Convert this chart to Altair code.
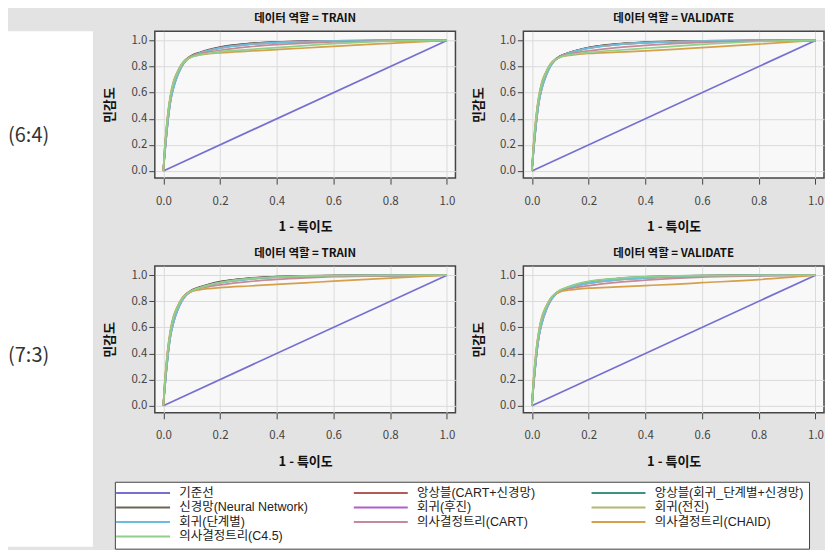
import altair as alt
import pandas as pd

FONT = "Noto Sans CJK KR"
LEGEND_FONT = "Liberation Sans, Noto Sans CJK KR"

MODELS = [
    "기준선",
    "앙상블(CART+신경망)",
    "앙상블(회귀_단계별+신경망)",
    "신경망(Neural Network)",
    "회귀(후진)",
    "회귀(전진)",
    "회귀(단계별)",
    "의사결정트리(CART)",
    "의사결정트리(CHAID)",
    "의사결정트리(C4.5)",
]
COLORS = ["#7570d0", "#b05a5a", "#3f8f84", "#6f6553", "#b15fd0",
          "#b8b56e", "#6bbde0", "#c48a9a", "#d4a04a", "#8fd08a"]

SPLITS = ["(6:4)", "(7:3)"]
ROLES = ["TRAIN", "VALIDATE"]

BASE_X = [0.0, 1.0]
BASE_Y = [0.0, 1.0]

FPR = [0, 0.005, 0.01, 0.015, 0.025, 0.035, 0.05, 0.065, 0.08, 0.1,
       0.13, 0.16, 0.2, 0.3, 0.4, 0.5, 0.6, 0.8, 1.0]

TPR_64_TRAIN = {
    "앙상블(CART+신경망)": [0, 0.16, 0.28, 0.39, 0.56, 0.66, 0.75, 0.815, 0.855, 0.885, 0.91, 0.93, 0.95, 0.976, 0.988, 0.994, 0.997, 0.999, 1.0],
    "앙상블(회귀_단계별+신경망)": [0, 0.15, 0.27, 0.38, 0.55, 0.65, 0.745, 0.81, 0.85, 0.882, 0.906, 0.926, 0.946, 0.973, 0.986, 0.993, 0.996, 0.999, 1.0],
    "신경망(Neural Network)": [0, 0.14, 0.26, 0.37, 0.54, 0.64, 0.74, 0.805, 0.848, 0.88, 0.905, 0.925, 0.947, 0.975, 0.988, 0.994, 0.997, 0.999, 1.0],
    "회귀(후진)": [0, 0.13, 0.25, 0.36, 0.53, 0.63, 0.73, 0.8, 0.845, 0.877, 0.903, 0.923, 0.942, 0.97, 0.984, 0.991, 0.995, 0.999, 1.0],
    "회귀(전진)": [0, 0.13, 0.25, 0.36, 0.53, 0.635, 0.73, 0.8, 0.846, 0.878, 0.903, 0.922, 0.941, 0.969, 0.983, 0.99, 0.995, 0.998, 1.0],
    "회귀(단계별)": [0, 0.13, 0.25, 0.36, 0.53, 0.63, 0.732, 0.802, 0.846, 0.878, 0.904, 0.923, 0.942, 0.97, 0.984, 0.991, 0.995, 0.999, 1.0],
    "의사결정트리(CART)": [0, 0.17, 0.3, 0.41, 0.57, 0.67, 0.76, 0.82, 0.855, 0.88, 0.9, 0.912, 0.925, 0.95, 0.968, 0.98, 0.988, 0.996, 1.0],
    "의사결정트리(CHAID)": [0, 0.18, 0.31, 0.42, 0.58, 0.68, 0.76, 0.82, 0.852, 0.875, 0.89, 0.898, 0.905, 0.918, 0.93, 0.942, 0.955, 0.978, 1.0],
    "의사결정트리(C4.5)": [0, 0.17, 0.3, 0.41, 0.57, 0.67, 0.755, 0.815, 0.85, 0.873, 0.892, 0.902, 0.913, 0.93, 0.945, 0.96, 0.975, 0.995, 1.0],
}

TPR_64_VALID = {
    "앙상블(CART+신경망)": [0, 0.15, 0.27, 0.38, 0.55, 0.65, 0.745, 0.81, 0.85, 0.88, 0.905, 0.925, 0.945, 0.972, 0.985, 0.992, 0.996, 0.999, 1.0],
    "앙상블(회귀_단계별+신경망)": [0, 0.15, 0.27, 0.38, 0.55, 0.65, 0.742, 0.808, 0.85, 0.88, 0.905, 0.924, 0.944, 0.971, 0.985, 0.992, 0.996, 0.999, 1.0],
    "신경망(Neural Network)": [0, 0.14, 0.26, 0.37, 0.54, 0.64, 0.738, 0.805, 0.848, 0.878, 0.904, 0.925, 0.946, 0.974, 0.987, 0.994, 0.997, 0.999, 1.0],
    "회귀(후진)": [0, 0.13, 0.25, 0.36, 0.53, 0.63, 0.73, 0.8, 0.845, 0.876, 0.902, 0.921, 0.94, 0.968, 0.982, 0.99, 0.995, 0.998, 1.0],
    "회귀(전진)": [0, 0.13, 0.25, 0.36, 0.53, 0.63, 0.73, 0.8, 0.845, 0.876, 0.902, 0.921, 0.94, 0.968, 0.982, 0.99, 0.995, 0.998, 1.0],
    "회귀(단계별)": [0, 0.13, 0.25, 0.36, 0.53, 0.632, 0.731, 0.801, 0.845, 0.877, 0.903, 0.922, 0.941, 0.969, 0.983, 0.99, 0.995, 0.998, 1.0],
    "의사결정트리(CART)": [0, 0.17, 0.3, 0.41, 0.57, 0.67, 0.755, 0.815, 0.85, 0.877, 0.896, 0.908, 0.92, 0.945, 0.962, 0.975, 0.985, 0.995, 1.0],
    "의사결정트리(CHAID)": [0, 0.18, 0.31, 0.42, 0.58, 0.68, 0.76, 0.82, 0.85, 0.873, 0.886, 0.893, 0.9, 0.91, 0.92, 0.932, 0.945, 0.972, 1.0],
    "의사결정트리(C4.5)": [0, 0.17, 0.3, 0.41, 0.57, 0.67, 0.755, 0.815, 0.849, 0.872, 0.889, 0.898, 0.908, 0.925, 0.94, 0.955, 0.97, 0.992, 1.0],
}

TPR_73_TRAIN = {
    "앙상블(CART+신경망)": [0, 0.16, 0.28, 0.39, 0.56, 0.66, 0.752, 0.815, 0.856, 0.886, 0.91, 0.93, 0.95, 0.976, 0.988, 0.994, 0.997, 0.999, 1.0],
    "앙상블(회귀_단계별+신경망)": [0, 0.15, 0.27, 0.38, 0.55, 0.65, 0.745, 0.81, 0.85, 0.882, 0.907, 0.927, 0.947, 0.974, 0.986, 0.993, 0.996, 0.999, 1.0],
    "신경망(Neural Network)": [0, 0.14, 0.26, 0.37, 0.54, 0.64, 0.74, 0.806, 0.849, 0.88, 0.906, 0.926, 0.948, 0.976, 0.988, 0.994, 0.997, 0.999, 1.0],
    "회귀(후진)": [0, 0.13, 0.25, 0.36, 0.53, 0.63, 0.73, 0.8, 0.845, 0.877, 0.903, 0.923, 0.942, 0.97, 0.984, 0.991, 0.995, 0.999, 1.0],
    "회귀(전진)": [0, 0.13, 0.25, 0.36, 0.53, 0.633, 0.73, 0.8, 0.846, 0.878, 0.903, 0.922, 0.941, 0.969, 0.983, 0.99, 0.995, 0.998, 1.0],
    "회귀(단계별)": [0, 0.13, 0.25, 0.36, 0.53, 0.63, 0.731, 0.801, 0.846, 0.878, 0.904, 0.923, 0.942, 0.97, 0.984, 0.991, 0.995, 0.999, 1.0],
    "의사결정트리(CART)": [0, 0.17, 0.3, 0.41, 0.57, 0.67, 0.758, 0.82, 0.855, 0.88, 0.9, 0.912, 0.925, 0.95, 0.967, 0.979, 0.988, 0.996, 1.0],
    "의사결정트리(CHAID)": [0, 0.18, 0.31, 0.42, 0.58, 0.68, 0.76, 0.82, 0.852, 0.875, 0.889, 0.897, 0.904, 0.917, 0.929, 0.941, 0.954, 0.977, 1.0],
    "의사결정트리(C4.5)": [0, 0.17, 0.3, 0.41, 0.57, 0.67, 0.756, 0.816, 0.852, 0.88, 0.904, 0.924, 0.944, 0.972, 0.985, 0.992, 0.996, 0.999, 1.0],
}

TPR_73_VALID = {
    "앙상블(CART+신경망)": [0, 0.15, 0.27, 0.38, 0.55, 0.65, 0.745, 0.81, 0.852, 0.882, 0.906, 0.925, 0.944, 0.97, 0.982, 0.99, 0.995, 0.999, 1.0],
    "앙상블(회귀_단계별+신경망)": [0, 0.15, 0.27, 0.38, 0.55, 0.65, 0.745, 0.81, 0.851, 0.882, 0.907, 0.927, 0.946, 0.972, 0.985, 0.992, 0.996, 0.999, 1.0],
    "신경망(Neural Network)": [0, 0.14, 0.26, 0.37, 0.54, 0.64, 0.74, 0.806, 0.85, 0.882, 0.908, 0.928, 0.948, 0.974, 0.987, 0.993, 0.997, 0.999, 1.0],
    "회귀(후진)": [0, 0.13, 0.25, 0.36, 0.53, 0.63, 0.73, 0.8, 0.845, 0.877, 0.902, 0.92, 0.938, 0.964, 0.978, 0.987, 0.993, 0.998, 1.0],
    "회귀(전진)": [0, 0.13, 0.25, 0.36, 0.53, 0.63, 0.73, 0.8, 0.845, 0.877, 0.902, 0.92, 0.938, 0.964, 0.978, 0.987, 0.993, 0.998, 1.0],
    "회귀(단계별)": [0, 0.13, 0.25, 0.36, 0.53, 0.632, 0.731, 0.801, 0.845, 0.877, 0.902, 0.921, 0.939, 0.965, 0.979, 0.988, 0.994, 0.998, 1.0],
    "의사결정트리(CART)": [0, 0.17, 0.3, 0.41, 0.57, 0.67, 0.755, 0.815, 0.85, 0.877, 0.895, 0.907, 0.92, 0.945, 0.962, 0.975, 0.985, 0.995, 1.0],
    "의사결정트리(CHAID)": [0, 0.18, 0.31, 0.42, 0.58, 0.68, 0.76, 0.82, 0.85, 0.873, 0.886, 0.893, 0.9, 0.91, 0.92, 0.93, 0.942, 0.966, 1.0],
    "의사결정트리(C4.5)": [0, 0.17, 0.3, 0.41, 0.57, 0.67, 0.756, 0.818, 0.855, 0.886, 0.912, 0.933, 0.952, 0.976, 0.988, 0.994, 0.997, 0.999, 1.0],
}

TICKS = [0.0, 0.2, 0.4, 0.6, 0.8, 1.0]


def build_df(curves):
    rows = []
    for x, y in zip(BASE_X, BASE_Y):
        rows.append({"model": MODELS[0], "fpr": x, "tpr": y})
    for m in MODELS[1:]:
        for x, y in zip(FPR, curves[m]):
            rows.append({"model": m, "fpr": x, "tpr": y})
    return pd.DataFrame(rows)


LEGEND = alt.Legend(
    title=None, orient="none", legendX=107, legendY=451, direction="horizontal",
    columns=3, gridAlign="all", columnPadding=21, rowPadding=1.5,
    symbolType="M-5,0H22", symbolSize=16, symbolStrokeWidth=2,
    labelFont=LEGEND_FONT, labelFontSize=12.5, labelColor="#222", labelOffset=47,
    labelLimit=400, padding=5, strokeColor="#444", fillColor="white",
)


def panel(curves, role):
    df = build_df(curves)
    return alt.Chart(df).mark_line(strokeWidth=1.7, interpolate="monotone").encode(
        x=alt.X("fpr:Q", title="1 - 특이도",
                scale=alt.Scale(domain=[-0.03, 1.03], nice=False, zero=False),
                axis=alt.Axis(values=TICKS, format=".1f", tickSize=6, labelPadding=11,
                              titlePadding=14)),
        y=alt.Y("tpr:Q", title="민감도",
                scale=alt.Scale(domain=[-0.055, 1.07], nice=False, zero=False),
                axis=alt.Axis(values=TICKS, format=".1f", tickSize=6, labelPadding=2,
                              titlePadding=14)),
        color=alt.Color("model:N", sort=MODELS,
                        scale=alt.Scale(domain=MODELS, range=COLORS),
                        legend=LEGEND),
    ).properties(
        width=301, height=147,
        title=alt.Title(f"데이터 역할 = {role}", fontSize=11.5, fontWeight="bold",
                        font=FONT, color="#111", offset=7, anchor="middle"),
    )


left = alt.Chart(pd.DataFrame({"label": SPLITS})).mark_text(
    fontSize=20, font=FONT, color="#333", align="left", baseline="middle"
).encode(
    x=alt.value(0),
    y=alt.Y("label:N", axis=None, scale=alt.Scale(range=[105, 325], padding=0)),
    text="label:N",
).properties(width=85, height=516,
             view=alt.ViewBackground(fill="white", stroke="white", strokeWidth=0))

row1 = alt.hconcat(panel(TPR_64_TRAIN, ROLES[0]), panel(TPR_64_VALID, ROLES[1]), spacing=15)
row2 = alt.hconcat(panel(TPR_73_TRAIN, ROLES[0]), panel(TPR_73_VALID, ROLES[1]), spacing=15)
right = alt.vconcat(row1, row2, spacing=11)

chart = alt.hconcat(
    left, right, spacing=10,
    padding={"left": 0, "top": 3, "right": 0, "bottom": 0},
).configure(
    background="#e3e3e3", font=FONT
).configure_view(
    fill="#f8f8f8", stroke="#454545", strokeWidth=1.5
).configure_axis(
    labelFont=FONT, labelFontSize=11.5, labelColor="#444",
    titleFont=FONT, titleFontSize=13, titleFontWeight="bold", titleColor="#111",
    tickColor="#444", domain=False, gridColor="#dadada", gridWidth=1,
)

chart.save("out.html", embed_options={"renderer": "svg", "actions": False})
